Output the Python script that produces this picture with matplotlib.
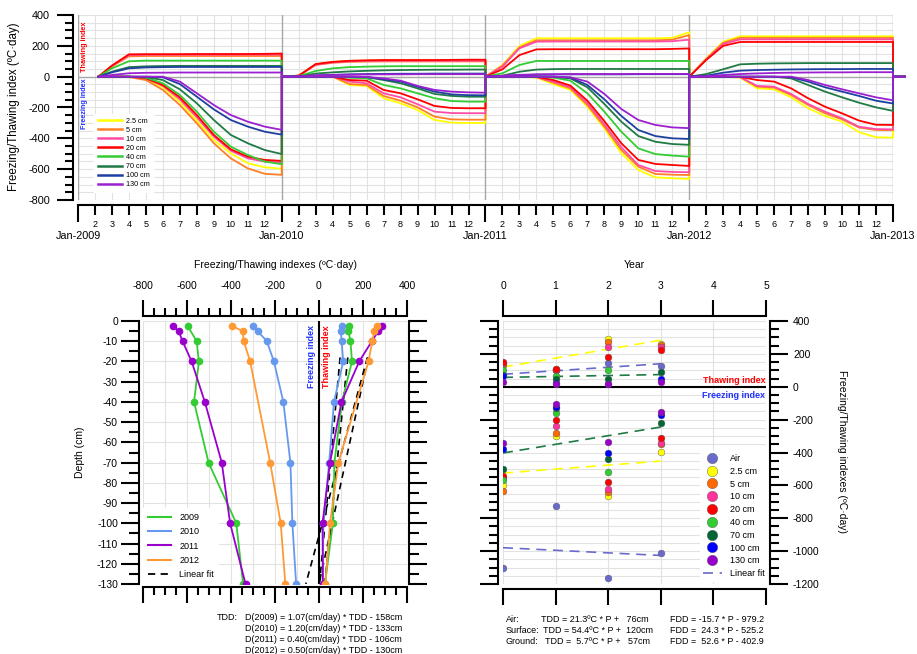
import numpy as np
import matplotlib
matplotlib.use('Agg')
import matplotlib.pyplot as plt
from matplotlib.lines import Line2D
from matplotlib.ticker import MultipleLocator

plt.rcParams['font.family'] = ['Liberation Sans', 'DejaVu Sans']
plt.rcParams['axes.unicode_minus'] = False

# ---------------- data ----------------
DEPTHS = [2.5, 5, 10, 20, 40, 70, 100, 130]
DEPTH_LABELS = ['2.5 cm', '5 cm', '10 cm', '20 cm', '40 cm', '70 cm', '100 cm', '130 cm']
YEARS = [2009, 2010, 2011, 2012]
YEAR_LABELS = ['Jan-2009', 'Jan-2010', 'Jan-2011', 'Jan-2012', 'Jan-2013']
nan = np.nan

MONTHS_2009 = [1.2, 2, 3, 4, 5, 6, 7, 8, 9, 10, 11, 12]
MONTHS = [0, 1, 2, 3, 4, 5, 6, 7, 8, 9, 10, 11, 12]

THAW_2009 = [
    [0, 68, 136, 138, 138, 138, 138, 138, 138, 138, 138, 138],
    [0, 66, 132, 134, 134, 134, 134, 134, 134, 134, 134, 134],
    [0, 70, 140, 142, 142, 142, 142, 142, 142, 143, 143, 143],
    [0, 72, 145, 146, 146, 146, 147, 147, 147, 147, 148, 150],
    [0, 54, 100, 104, 104, 104, 104, 104, 104, 104, 104, 104],
    [0, 32, 62, 67, 69, 70, 70, 70, 70, 70, 70, 70],
    [0, 28, 54, 60, 62, 63, 63, 63, 63, 63, 63, 63],
    [0, 11, 22, 25, 26, 27, 27, 27, 27, 27, 27, 27],
]
FREEZE_2009 = [
    [0, 0, 0, -15, -69, -162, -285, -411, -497, -562, -588, -597],
    [0, 0, -2, -22, -86, -184, -303, -432, -530, -595, -630, -637],
    [0, 0, 0, -11, -60, -147, -264, -389, -480, -530, -551, -556],
    [0, 0, 0, -10, -54, -134, -249, -378, -471, -519, -540, -546],
    [0, 0, 0, -6, -43, -119, -227, -357, -454, -508, -551, -568],
    [0, 0, 0, -2, -22, -82, -173, -281, -378, -432, -476, -502],
    [0, 0, 0, 0, -4, -48, -130, -212, -281, -324, -357, -376],
    [0, 0, 0, 0, 0, -32, -108, -184, -249, -292, -324, -345],
]
THAW_2010 = [
    [0, 8, 80, 95, 102, 104, 105, 105, 105, 105, 105, 105, 105],
    [0, 6, 76, 90, 96, 98, 99, 99, 99, 99, 99, 99, 99],
    [0, 7, 78, 93, 100, 102, 103, 103, 103, 103, 103, 103, 103],
    [0, 6, 82, 96, 103, 106, 108, 108, 108, 108, 109, 110, 110],
    [0, 3, 37, 54, 62, 65, 67, 68, 68, 68, 68, 68, 68],
    [0, 1, 20, 28, 34, 38, 41, 43, 44, 45, 45, 46, 46],
    [0, 2, 8, 12, 15, 17, 18, 19, 19, 20, 20, 20, 20],
    [0, 2, 8, 11, 13, 14, 15, 15, 16, 16, 16, 16, 16],
]
FREEZE_2010 = [
    [0, 0, 0, 0, -54, -60, -140, -173, -216, -281, -298, -300, -300],
    [0, 0, 0, 0, -48, -54, -125, -156, -199, -259, -277, -279, -279],
    [0, 0, 0, 0, -32, -43, -108, -134, -179, -227, -236, -237, -237],
    [0, 0, 0, 0, -22, -26, -86, -108, -147, -190, -203, -205, -205],
    [0, 0, 0, 0, -6, -11, -54, -76, -108, -140, -158, -162, -162],
    [0, 0, 0, 0, -1, -3, -22, -43, -76, -112, -125, -130, -130],
    [0, 0, 0, 0, 0, -2, -17, -32, -65, -97, -115, -120, -121],
    [0, 0, 0, 0, 0, -2, -11, -26, -60, -86, -97, -102, -104],
]
THAW_2011 = [
    [0, 76, 199, 249, 249, 249, 249, 249, 249, 249, 249, 252, 288],
    [0, 72, 190, 236, 236, 236, 236, 236, 236, 236, 236, 240, 270],
    [0, 65, 184, 227, 228, 228, 228, 228, 228, 228, 228, 230, 240],
    [0, 48, 140, 177, 178, 178, 178, 178, 178, 178, 178, 180, 183],
    [0, 22, 76, 102, 102, 102, 102, 102, 102, 102, 102, 102, 102],
    [0, 6, 32, 46, 49, 50, 50, 50, 50, 50, 50, 50, 50],
    [0, 5, 10, 13, 14, 15, 15, 15, 15, 16, 16, 16, 16],
    [0, 6, 12, 15, 16, 17, 17, 17, 17, 18, 18, 18, 18],
]
FREEZE_2011 = [
    [0, 0, 0, -6, -48, -86, -195, -335, -497, -605, -653, -659, -664],
    [0, 0, 0, -3, -39, -76, -184, -324, -476, -584, -631, -636, -638],
    [0, 0, 0, -2, -32, -69, -173, -309, -458, -573, -612, -618, -620],
    [0, 0, 0, 0, -22, -58, -156, -288, -432, -540, -566, -573, -579],
    [0, 0, 0, 0, -6, -26, -108, -227, -357, -465, -502, -512, -519],
    [0, 0, 0, 0, -1, -11, -69, -177, -292, -385, -422, -437, -442],
    [0, 0, 0, 0, 0, -6, -54, -147, -255, -346, -385, -400, -404],
    [0, 0, 0, 0, 0, -4, -32, -112, -210, -281, -313, -329, -334],
]
THAW_2012 = [
    [0, 119, 227, 262, 262, 262, 262, 262, 262, 262, 262, 262, 262],
    [0, 115, 220, 252, 252, 252, 252, 252, 252, 252, 252, 252, 252],
    [0, 112, 212, 242, 242, 242, 242, 242, 242, 242, 242, 242, 242],
    [0, 108, 200, 225, 225, 225, 225, 225, 225, 225, 225, 225, 225],
    [0, nan, nan, nan, nan, nan, nan, nan, nan, nan, nan, nan, nan],
    [0, 17, 48, 80, 84, 86, 87, 88, 88, 88, 88, 88, 88],
    [0, 6, 26, 39, 43, 45, 47, 48, 49, 49, 50, 50, 50],
    [0, 3, 11, 17, 21, 24, 26, 27, 28, 28, 29, 29, 29],
]
FREEZE_2012 = [
    [0, 0, 0, -6, -76, -82, -134, -205, -255, -292, -360, -393, -395],
    [0, 0, 0, -3, -65, -71, -119, -184, -238, -277, -330, -346, -347],
    [0, 0, 0, -3, -60, -65, -112, -177, -227, -270, -325, -340, -342],
    [0, 0, 0, -1, -22, -32, -76, -140, -195, -238, -285, -312, -313],
    [0, nan, nan, nan, nan, nan, nan, nan, nan, nan, nan, nan, nan],
    [0, 0, 0, 0, 0, 0, -11, -54, -97, -134, -169, -199, -222],
    [0, 0, 0, 0, 0, 0, -4, -32, -69, -97, -125, -156, -174],
    [0, 0, 0, 0, 0, 0, 0, -22, -54, -82, -108, -134, -153],
]
THAW = [THAW_2009, THAW_2010, THAW_2011, THAW_2012]
FREEZE = [FREEZE_2009, FREEZE_2010, FREEZE_2011, FREEZE_2012]
YEAR_MONTHS = [MONTHS_2009, MONTHS, MONTHS, MONTHS]

# depth-profile: points not shown (year index, depth index) on freezing side
PROFILE_FREEZE_OMIT = [(0, 1)]
PROFILE_FIT_SLOPE = [1.07, 1.20, 0.40, 0.50]
PROFILE_FIT_ICPT = [-158, -133, -106, -130]
PROFILE_FIT_DEPTH = [-18, -130]

AIR_TDD = [72, 100, 145, 127]
AIR_FDD = [-1103, -723, -1164, -1009]
FIT_NAMES = ['Air', 'Surface', 'Ground']
FIT_TDD_SLOPE = [21.3, 54.4, 5.7]
FIT_TDD_ICPT = [76, 120, 57]
FIT_FDD_SLOPE = [-15.7, 24.3, 52.6]
FIT_FDD_ICPT = [-979.2, -525.2, -402.9]
FIT_YEARS = [0, 3]

# ---------------- styles ----------------
LINE_COLORS = ['#ffff00', '#ff7f27', '#ff4da6', '#ff0000', '#33cc33', '#1f7a45', '#1f3fa0', '#9b20d0']
DOT_COLORS = ['#ffff00', '#ff6a00', '#ff3399', '#ff0000', '#33cc33', '#006633', '#0000ff', '#9900cc']
AIR_COLOR = '#6a6acd'
FIT_COLORS = [AIR_COLOR, '#ffff00', '#1f7a45']
YEAR_COLORS = ['#33cc33', '#6699ee', '#9900cc', '#ff9933']
GRID = '#e2e2e2'

W, H, DPI = 917, 654, 100


def rect(x0, y0, x1, y1):
    return [x0 / W, 1 - y1 / H, (x1 - x0) / W, (y1 - y0) / H]


def pt(px):
    return px * 72.0 / DPI


def fx(x):
    return x / W


def fy(y):
    return 1 - y / H


fig = plt.figure(figsize=(W / DPI, H / DPI), dpi=DPI)

# ================= top time series =================
ax = fig.add_axes(rect(78, 15, 893, 200))
ax.set_xlim(0, 48)
ax.set_ylim(-800, 400)
for s in ['top', 'right']:
    ax.spines[s].set_visible(False)
ax.spines['left'].set_position(('outward', pt(5)))
ax.spines['bottom'].set_position(('outward', pt(5)))
for s in ['left', 'bottom']:
    ax.spines[s].set_linewidth(1.5)
ax.yaxis.set_major_locator(MultipleLocator(200))
ax.yaxis.set_minor_locator(MultipleLocator(50))
ax.set_xticks([0, 12, 24, 36, 48])
ax.set_xticklabels(YEAR_LABELS)
minor_m = [m for m in range(48) if m % 12 != 0]
ax.set_xticks(minor_m, minor=True)
ax.set_xticklabels([str(m % 12 + 1) for m in minor_m], minor=True)
ax.tick_params(axis='y', which='major', length=pt(16), width=1.5, labelsize=7.8, pad=pt(7))
ax.tick_params(axis='y', which='minor', length=pt(8), width=1.5)
ax.tick_params(axis='x', which='major', length=pt(17), width=1.5, labelsize=7.8, pad=pt(9))
ax.tick_params(axis='x', which='minor', length=pt(10), width=1.5, labelsize=6.5, pad=pt(5))
ax.grid(which='minor', axis='x', color=GRID, lw=0.8, ls='-')
ax.grid(which='both', axis='y', color=GRID, lw=0.8, ls='-')
ax.set_axisbelow(True)
for yb in range(0, 49, 12):
    ax.axvline(yb, color='#a8a8a8', lw=1.0, zorder=1.5)
ax.axhline(0, color='#a8a8a8', lw=1.0, zorder=1.5)

for i in range(len(DEPTHS)):
    for SER in (THAW, FREEZE):
        xs, ys = [], []
        for k in range(len(YEARS)):
            xs += [12 * k + m for m in YEAR_MONTHS[k]]
            ys += list(SER[k][i])
        xs += [48, 48.7]
        ys += [0, 0]
        ax.plot(xs, ys, color=LINE_COLORS[i], lw=1.3, clip_on=False, zorder=3,
                label=DEPTH_LABELS[i] if SER is THAW else None)

leg = ax.legend(loc='upper left', bbox_to_anchor=((94 - 78) / 815, (200 - 114) / 185),
                fontsize=5.2, frameon=True, fancybox=False, framealpha=1, edgecolor='white',
                handlelength=3.4, handletextpad=0.5, labelspacing=0.28, borderpad=0.5,
                borderaxespad=0)
leg.set_zorder(5)
for l in leg.get_lines():
    l.set_linewidth(1.8)
fig.text(fx(14), fy(107), 'Freezing/Thawing index (ºC·day)', fontsize=8.3, rotation=90,
         ha='center', va='center')
fig.text(fx(84), fy(47), 'Thawing index', color='#ff0000', fontsize=5.2, fontweight='bold',
         rotation=90, ha='center', va='center')
fig.text(fx(84), fy(104), 'Freezing index', color='#2233ff', fontsize=5.2, fontweight='bold',
         rotation=90, ha='center', va='center')

# ================= depth profile =================
axp = fig.add_axes(rect(143, 321, 407, 584))
axp.set_xlim(-800, 400)
axp.set_ylim(-130, 0)
axp.spines['top'].set_position(('outward', pt(5)))
axp.spines['bottom'].set_position(('outward', pt(3)))
axp.spines['left'].set_position(('outward', pt(4)))
axp.spines['right'].set_position(('outward', pt(2)))
for s in axp.spines.values():
    s.set_linewidth(1.5)
axp.xaxis.set_major_locator(MultipleLocator(200))
axp.xaxis.set_minor_locator(MultipleLocator(50))
axp.yaxis.set_major_locator(MultipleLocator(10))
axp.yaxis.set_minor_locator(MultipleLocator(5))
axp.tick_params(axis='x', which='both', top=True, bottom=True, labeltop=True, labelbottom=False)
axp.tick_params(axis='y', which='both', left=True, right=True, labelleft=True, labelright=False)
axp.tick_params(axis='x', which='major', length=pt(16), width=1.5, labelsize=7.5, pad=pt(9))
axp.tick_params(axis='x', which='minor', length=pt(8), width=1.5)
axp.tick_params(axis='y', which='major', length=pt(18), width=1.5, labelsize=7.5, pad=pt(3))
axp.tick_params(axis='y', which='minor', length=pt(10), width=1.5)
for gx in range(-800, 401, 100):
    axp.axvline(gx, color=GRID, lw=0.8, zorder=0)
for gy in range(-130, 1, 10):
    axp.axhline(gy, color=GRID, lw=0.8, zorder=0)
axp.axvline(0, color='black', lw=1.5, zorder=2)

depth_neg = -np.array(DEPTHS)
for k in range(len(YEARS)):
    tdd = np.array([THAW[k][i][-1] for i in range(len(DEPTHS))], dtype=float)
    fdd = np.array([FREEZE[k][i][-1] for i in range(len(DEPTHS))], dtype=float)
    for (kk, ii) in PROFILE_FREEZE_OMIT:
        if kk == k:
            fdd[ii] = nan
    for vals in (tdd, fdd):
        ok = ~np.isnan(vals)
        axp.plot(vals[ok], depth_neg[ok], color=YEAR_COLORS[k], lw=1.3, marker='o',
                 markersize=4.5, zorder=4)
for k in range(len(YEARS)):
    d = np.array(PROFILE_FIT_DEPTH, dtype=float)
    axp.plot((d - PROFILE_FIT_ICPT[k]) / PROFILE_FIT_SLOPE[k], d, color='black', lw=1.2,
             dashes=(4, 3), zorder=3)
p_handles = [Line2D([], [], color=YEAR_COLORS[k], lw=1.5) for k in range(len(YEARS))]
p_handles.append(Line2D([], [], color='black', lw=1.3, dashes=(4, 3)))
axp.legend(p_handles, [str(y) for y in YEARS] + ['Linear fit'], loc='lower left',
           bbox_to_anchor=(0.0, 0.0), fontsize=6.5, frameon=True,
           fancybox=False, framealpha=1, edgecolor='white', handlelength=2.6,
           handletextpad=0.9, labelspacing=0.6, borderpad=0.5, borderaxespad=0)
axp.text(-12, -2, 'Freezing index', color='#2233ff', fontsize=6.5, fontweight='bold',
         rotation=90, ha='right', va='top')
axp.text(12, -2, 'Thawing index', color='#ff0000', fontsize=6.5, fontweight='bold',
         rotation=90, ha='left', va='top')
fig.text(fx(275), fy(265), 'Freezing/Thawing indexes (ºC·day)', fontsize=7.5, ha='center', va='center')
fig.text(fx(80), fy(452), 'Depth (cm)', fontsize=7.5, rotation=90, ha='center', va='center')
fig.text(fx(217), fy(618), 'TDD:', fontsize=6.5, ha='left', va='center')
for k in range(len(YEARS)):
    fig.text(fx(245), fy(618 + 10.7 * k),
             'D(%d) = %.2f(cm/day) * TDD - %dcm' % (YEARS[k], PROFILE_FIT_SLOPE[k], -PROFILE_FIT_ICPT[k]),
             fontsize=6.5, ha='left', va='center')

# ================= scatter by year =================
axs = fig.add_axes(rect(503, 321, 766, 584))
axs.set_xlim(0, 5)
axs.set_ylim(-1200, 400)
axs.spines['top'].set_position(('outward', pt(5)))
axs.spines['bottom'].set_position(('outward', pt(5)))
axs.spines['left'].set_position(('outward', pt(5)))
axs.spines['right'].set_position(('outward', pt(4)))
for s in axs.spines.values():
    s.set_linewidth(1.5)
axs.xaxis.set_major_locator(MultipleLocator(1))
axs.yaxis.set_major_locator(MultipleLocator(200))
axs.yaxis.set_minor_locator(MultipleLocator(50))
axs.tick_params(axis='x', which='both', top=True, bottom=True, labeltop=True, labelbottom=False)
axs.tick_params(axis='y', which='both', left=True, right=True, labelleft=False, labelright=True)
axs.tick_params(axis='x', which='major', length=pt(16), width=1.5, labelsize=7.5, pad=pt(9))
axs.tick_params(axis='y', which='major', length=pt(18), width=1.5, labelsize=7.5, pad=pt(5))
axs.tick_params(axis='y', which='minor', length=pt(9), width=1.5)
for gx in range(0, 6):
    axs.axvline(gx, color=GRID, lw=0.8, zorder=0)
for gy in range(-1200, 401, 50):
    axs.axhline(gy, color=GRID, lw=0.8, zorder=0)
axs.axhline(0, color='black', lw=1.5, zorder=2)

yrs = np.arange(len(YEARS))
axs.scatter(yrs, AIR_TDD, s=24, color=AIR_COLOR, edgecolors='#555555', linewidths=0.3, zorder=4)
axs.scatter(yrs, AIR_FDD, s=24, color=AIR_COLOR, edgecolors='#555555', linewidths=0.3, zorder=4)
for i in range(len(DEPTHS)):
    tdd = [THAW[k][i][-1] for k in range(len(YEARS))]
    fdd = [FREEZE[k][i][-1] for k in range(len(YEARS))]
    axs.scatter(yrs, tdd, s=24, color=DOT_COLORS[i], edgecolors='#555555', linewidths=0.3, zorder=4)
    axs.scatter(yrs, fdd, s=24, color=DOT_COLORS[i], edgecolors='#555555', linewidths=0.3, zorder=4)
fy_ = np.array(FIT_YEARS, dtype=float)
for j in range(len(FIT_NAMES)):
    axs.plot(fy_, FIT_TDD_SLOPE[j] * fy_ + FIT_TDD_ICPT[j], color=FIT_COLORS[j], lw=1.2,
             dashes=(6, 4), zorder=3)
    axs.plot(fy_, FIT_FDD_SLOPE[j] * fy_ + FIT_FDD_ICPT[j], color=FIT_COLORS[j], lw=1.2,
             dashes=(6, 4), zorder=3)

handles = [Line2D([], [], ls='none', marker='o', markersize=7.5, markerfacecolor=AIR_COLOR,
                  markeredgecolor='#555555', markeredgewidth=0.3)]
for i in range(len(DEPTHS)):
    handles.append(Line2D([], [], ls='none', marker='o', markersize=7.5, markerfacecolor=DOT_COLORS[i],
                          markeredgecolor='#555555', markeredgewidth=0.3))
handles.append(Line2D([], [], color=AIR_COLOR, lw=1.2, dashes=(6, 4)))
axs.legend(handles, ['Air'] + DEPTH_LABELS + ['Linear fit'], loc='lower right',
           bbox_to_anchor=(1.004, 0.012), fontsize=6.5, frameon=True, fancybox=False,
           framealpha=1, edgecolor='white', handlelength=2.2, handletextpad=0.8,
           labelspacing=0.42, borderpad=0.3, borderaxespad=0)
axs.text(4.99, 40, 'Thawing index', color='#ff0000', fontsize=6.5, fontweight='bold',
         ha='right', va='center')
axs.text(4.99, -55, 'Freezing index', color='#2233ff', fontsize=6.5, fontweight='bold',
         ha='right', va='center')
fig.text(fx(634), fy(265), 'Year', fontsize=7.5, ha='center', va='center')
fig.text(fx(842), fy(452), 'Freezing/Thawing indexes (ºC·day)', fontsize=7.5, rotation=270,
         ha='center', va='center')

rows_lab = ['Air:', 'Surface:', 'Ground:']
rows_tdd = ['TDD = %4.1fºC * P + %4dcm' % (FIT_TDD_SLOPE[j], FIT_TDD_ICPT[j]) for j in range(3)]
rows_fdd = ['FDD = %5.1f * P - %.1f' % (FIT_FDD_SLOPE[j], -FIT_FDD_ICPT[j]) for j in range(3)]
tdd_x = [541, 543, 545]
for j in range(3):
    yy = fy(620 + 10.5 * j)
    fig.text(fx(506), yy, rows_lab[j], fontsize=6.5, ha='left', va='center')
    fig.text(fx(tdd_x[j]), yy, rows_tdd[j], fontsize=6.5, ha='left', va='center')
    fig.text(fx(670), yy, rows_fdd[j], fontsize=6.5, ha='left', va='center')

fig.savefig('out.png', dpi=DPI)
